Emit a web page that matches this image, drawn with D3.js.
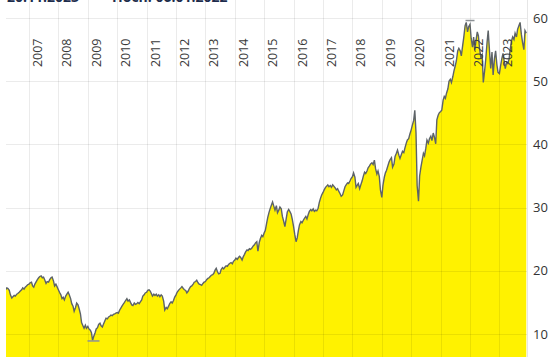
<!DOCTYPE html>
<html>
<head>
<meta charset="utf-8">
<script src="https://cdn.jsdelivr.net/npm/d3@7"></script>
<style>
  html, body { margin: 0; padding: 0; background: #ffffff; }
  svg { display: block; }
  text { font-family: "Open Sans", "Noto Sans", sans-serif; }
</style>
</head>
<body>
<svg id="chart" width="555" height="361"></svg>
<script>
// ---- data (semi-monthly closes, 1st and 15th of each month, from 2006-03-15) ----
const seriesStart = "2006-03-15";
const closes = [
  // 2006 (Mar15 .. Dec15)
  17.0, 17.3, 17.2, 16.9, 16.2, 15.7, 15.9, 16.1, 16.0, 16.3, 16.4, 16.6, 16.8, 17.0, 17.3, 17.1, 17.4, 17.6, 17.8,
  // 2007
  17.9, 18.1, 18.2, 17.6, 17.4, 17.9, 18.3, 18.6, 18.9, 19.1, 19.2, 18.9, 19.0, 18.6, 18.0, 18.3, 18.2, 18.6, 18.9, 19.0, 18.4, 17.6, 17.9, 17.5,
  // 2008
  17.0, 16.6, 16.2, 15.6, 15.8, 15.4, 16.0, 16.3, 16.6, 16.2, 15.6, 14.8, 14.4, 13.6, 14.2, 14.9, 14.6, 14.0, 13.2, 11.8, 11.3, 10.9, 11.4, 10.9,
  // 2009
  11.2, 10.8, 10.6, 10.2, 9.0, 9.6, 10.2, 10.8, 11.0, 11.5, 11.7, 11.3, 11.1, 11.6, 12.1, 12.5, 12.4, 12.7, 12.8, 13.0, 12.9, 13.1, 13.2, 13.3,
  // 2010
  13.4, 13.3, 13.8, 14.1, 14.4, 14.7, 15.0, 15.3, 15.6, 15.2, 15.4, 15.0, 14.6, 14.5, 14.9, 14.7, 14.8, 15.0, 14.8, 15.1, 15.4, 16.0, 16.2, 16.5,
  // 2011
  16.6, 16.9, 17.0, 16.8, 16.4, 16.0, 16.3, 16.1, 16.3, 16.0, 16.2, 15.9, 16.2, 16.0, 15.2, 13.8, 14.2, 14.0, 14.4, 14.8, 15.1, 14.9, 15.3, 15.8,
  // 2012
  16.2, 16.6, 16.9, 17.1, 17.3, 17.5, 17.2, 17.0, 16.9, 16.5, 16.8, 17.2, 17.5, 17.6, 17.9, 18.2, 18.3, 18.5, 18.1, 17.9, 17.8, 17.7, 18.0, 18.2,
  // 2013
  18.3, 18.6, 18.8, 18.9, 19.1, 19.3, 19.4, 19.6, 20.1, 20.4, 19.8, 19.5, 19.6, 20.2, 20.5, 20.3, 20.6, 20.8, 20.7, 21.0, 21.2, 21.3, 21.1, 21.5,
  // 2014
  21.7, 22.0, 21.8, 22.1, 22.3, 22.1, 21.7, 22.2, 22.6, 23.0, 23.3, 23.2, 23.5, 23.4, 23.6, 23.9, 24.1, 24.4, 24.6, 23.1, 24.5, 25.1, 25.6, 25.4,
  // 2015
  26.0, 26.4, 27.6, 28.5, 29.2, 29.8, 30.4, 30.9, 30.2, 29.6, 30.3, 29.2, 29.6, 30.1, 29.8, 28.6, 27.8, 27.0, 28.2, 29.3, 29.7, 29.4, 29.0, 28.2,
  // 2016
  27.0, 25.8, 24.6, 25.2, 26.4, 27.3, 27.8, 27.6, 28.0, 28.3, 28.6, 28.2, 28.9, 29.4, 29.7, 29.5, 29.8, 29.4, 29.6, 29.5, 29.9, 30.8, 31.5, 32.0,
  // 2017
  32.4, 32.8, 33.2, 33.4, 33.6, 33.3, 33.5, 33.2, 33.6, 33.4, 33.1, 32.8, 33.0, 32.6, 32.2, 31.8, 32.0, 32.6, 33.3, 33.6, 33.9, 33.8, 34.2, 34.6,
  // 2018
  34.9, 35.5, 34.8, 33.2, 33.5, 33.8, 33.0, 33.6, 34.2, 34.9, 35.6, 35.4, 35.8, 36.3, 36.6, 36.9, 37.1, 36.8, 37.5, 36.2, 35.3, 35.8, 34.9, 32.8,
  // 2019
  31.6, 33.5, 34.8, 35.5, 35.9, 36.5, 37.2, 37.6, 37.9, 36.4, 36.9, 38.1, 38.6, 39.1, 38.3, 37.8, 38.4, 38.9, 38.7, 39.4, 40.2, 40.7, 40.9, 41.6,
  // 2020
  42.3, 43.0, 43.8, 45.4, 41.8, 33.5, 31.0, 35.0, 36.4, 37.4, 38.6, 38.2, 39.4, 40.7, 40.2, 40.9, 41.3, 40.6, 41.8, 41.2, 40.1, 43.9, 44.6, 45.0,
  // 2021
  45.2, 45.4, 47.0, 47.6, 47.3, 48.1, 48.8, 50.0, 50.3, 49.8, 50.7, 51.6, 52.4, 53.2, 54.8, 55.2, 54.8, 54.0, 55.6, 56.9, 58.8, 59.3, 57.8, 58.6,
  // 2022
  59.0, 56.8, 55.4, 57.0, 54.9, 56.3, 57.8, 57.2, 55.0, 53.8, 54.2, 49.8, 51.6, 53.4, 56.2, 58.0, 54.6, 52.0, 54.6, 51.0, 53.6, 54.8, 52.6, 51.4,
  // 2023 (Jan1 .. Dec1)
  51.2, 52.4, 53.6, 54.4, 53.2, 52.0, 53.0, 52.8, 53.5, 55.0, 56.4, 57.0, 56.6, 57.6, 57.0, 58.2, 58.8, 59.3, 57.4, 56.2, 55.0, 58.0, 57.6
];
const yearLabels = ["2007","2008","2009","2010","2011","2012","2013","2014","2015","2016","2017","2018","2019","2020","2021","2022","2023"];
const valueTicks = [10, 20, 30, 40, 50, 60];
const lowMark = { date: "2009-03-12", value: 8.9 };
const highMark = { date: "2022-01-01", value: 59.6 };
const headerTexts = ["20.11.2023", "Hoch: 06.01.2022"];

// ---- build dated points ----
const parse = d3.timeParse("%Y-%m-%d");
const base = parse(seriesStart);
const points = closes.map((v, i) => {
  const k = i + 1;
  const m = d3.timeMonth.offset(new Date(base.getFullYear(), base.getMonth(), 1), Math.floor(k / 2));
  const d = new Date(m.getFullYear(), m.getMonth(), (k % 2) ? 15 : 1);
  return { date: d, value: v };
});

// ---- layout ----
const W = 555, H = 361;
const plotLeft = 6, plotRight = 527, plotTop = 0, plotBottom = 357;

const x = d3.scaleTime()
  .domain([new Date(2007, 0, 1), new Date(2023, 0, 1)])
  .range([29, 499.4]);
const y = d3.scaleLinear()
  .domain([10, 60])
  .range([334, 18]);

const svg = d3.select("#chart");

svg.append("defs").append("clipPath").attr("id", "plotclip")
  .append("rect").attr("x", plotLeft).attr("y", plotTop)
  .attr("width", plotRight - plotLeft).attr("height", plotBottom - plotTop);

// area
const area = d3.area()
  .x(d => x(d.date))
  .y0(plotBottom)
  .y1(d => y(d.value));
svg.append("path")
  .datum(points)
  .attr("clip-path", "url(#plotclip)")
  .attr("d", area)
  .attr("fill", "#fff200");

// gridlines (on top of area, translucent)
const grid = svg.append("g").attr("stroke", "rgba(0,0,0,0.08)").attr("stroke-width", 1);
grid.selectAll("line.h").data(valueTicks).join("line")
  .attr("class", "h")
  .attr("x1", plotLeft).attr("x2", plotRight)
  .attr("y1", d => Math.round(y(d)) + 0.5).attr("y2", d => Math.round(y(d)) + 0.5);
grid.selectAll("line.v").data(yearLabels).join("line")
  .attr("class", "v")
  .attr("x1", d => Math.round(x(new Date(+d, 0, 1))) + 0.5)
  .attr("x2", d => Math.round(x(new Date(+d, 0, 1))) + 0.5)
  .attr("y1", plotTop).attr("y2", plotBottom);
svg.append("line")
  .attr("x1", plotRight + 0.5).attr("x2", plotRight + 0.5)
  .attr("y1", plotTop).attr("y2", plotBottom)
  .attr("stroke", "#e6e6e6").attr("stroke-width", 1);

// price line
const line = d3.line()
  .x(d => x(d.date))
  .y(d => y(d.value));
svg.append("path")
  .datum(points)
  .attr("clip-path", "url(#plotclip)")
  .attr("d", line)
  .attr("fill", "none")
  .attr("stroke", "#5d6368")
  .attr("stroke-width", 1.4)
  .attr("stroke-linejoin", "miter");

// low / high markers
[[lowMark, 6], [highMark, 4.5]].forEach(([m, hw]) => {
  const cx = x(parse(m.date));
  svg.append("line")
    .attr("x1", cx - hw).attr("x2", cx + hw)
    .attr("y1", y(m.value)).attr("y2", y(m.value))
    .attr("stroke", "#8d9297").attr("stroke-width", 1.5);
});

// year labels (rotated)
svg.append("g").selectAll("text").data(yearLabels).join("text")
  .attr("transform", d => `translate(${Math.round(x(new Date(+d, 0, 1))) + 13},38.5) rotate(-90)`)
  .attr("text-anchor", "end")
  .attr("font-size", "12.5px")
  .attr("fill", "#3a3a3a")
  .text(d => d);

// value axis labels (right)
svg.append("g").selectAll("text").data(valueTicks).join("text")
  .attr("x", 533)
  .attr("y", d => y(d))
  .attr("dy", "0.35em")
  .attr("font-size", "13px")
  .attr("fill", "#333333")
  .text(d => d);

// header (cut off at top)
svg.append("text").attr("x", 7).attr("y", 2)
  .attr("font-size", "14px").attr("font-weight", "bold").attr("fill", "#1d2c4c")
  .text(headerTexts[0]);
svg.append("text").attr("x", 112).attr("y", 2)
  .attr("font-size", "14px").attr("font-weight", "bold").attr("fill", "#1d2c4c")
  .text(headerTexts[1]);
</script>
</body>
</html>
